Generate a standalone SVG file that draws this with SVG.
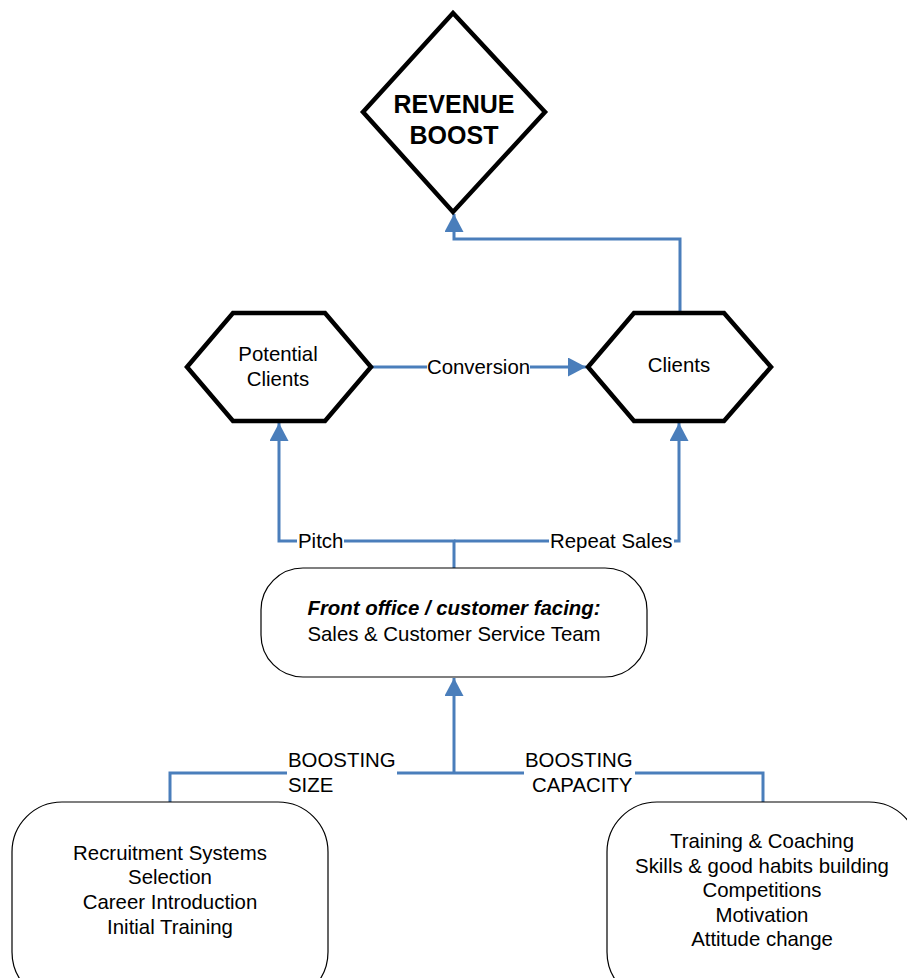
<svg xmlns="http://www.w3.org/2000/svg" width="907" height="978" viewBox="0 0 907 978">
  <style>
    text { font-family: "Liberation Sans", Arial, sans-serif; font-size: 20.4px; fill: #000; }
    .c { text-anchor: middle; }
    .thick { fill: #fff; stroke: #000; stroke-width: 4.5; stroke-linejoin: miter; }
    .box { fill: #fff; stroke: #000; stroke-width: 1.2; }
    .conn { fill: none; stroke: #4a7ebb; stroke-width: 3; }
    .lblbg { fill: #fff; }
  </style>
  <defs>
    <marker id="arr" viewBox="0 0 18 19" refX="18" refY="9.5" markerWidth="18" markerHeight="19" markerUnits="userSpaceOnUse" orient="auto">
      <path d="M0,0 L18,9.5 L0,19 z" fill="#4a7ebb"/>
    </marker>
  </defs>
  <rect width="907" height="978" fill="#fff"/>

  <g id="connectors">
    <path class="conn" d="M680,313 V239 H454 V214" marker-end="url(#arr)"/>
    <path class="conn" d="M371,367 H586" marker-end="url(#arr)"/>
    <path class="conn" d="M454,568 V541 H279 V423" marker-end="url(#arr)"/>
    <path class="conn" d="M454,541 H679 V423" marker-end="url(#arr)"/>
    <path class="conn" d="M454,773 V678" marker-end="url(#arr)"/>
    <path class="conn" d="M454,773 H170 V802"/>
    <path class="conn" d="M454,773 H763 V802"/>
    <rect class="lblbg" x="427" y="355" width="103" height="24"/>
    <text class="c" x="478.5" y="374">Conversion</text>
    <rect class="lblbg" x="297" y="530" width="47" height="22"/>
    <text x="298" y="548">Pitch</text>
    <rect class="lblbg" x="549" y="530" width="125" height="22"/>
    <text x="550" y="548">Repeat Sales</text>
    <rect class="lblbg" x="287" y="750" width="110" height="47"/>
    <text x="288" y="767">BOOSTING</text>
    <text x="288" y="792">SIZE</text>
    <rect class="lblbg" x="524" y="750" width="111" height="47"/>
    <text x="525" y="767">BOOSTING</text>
    <text x="532" y="792">CAPACITY</text>
  </g>

  <g id="revenue-boost">
    <polygon class="thick" points="453,13 545,112 453,212 363,112"/>
    <text class="c" x="454" y="113" style="font-weight:bold;font-size:25px">REVENUE</text>
    <text class="c" x="454" y="144" style="font-weight:bold;font-size:25px">BOOST</text>
  </g>

  <g id="potential-clients">
    <polygon class="thick" points="187,367 233,313 325,313 371,367 325,421 233,421"/>
    <text class="c" x="278" y="361">Potential</text>
    <text class="c" x="278" y="386">Clients</text>
  </g>

  <g id="clients">
    <polygon class="thick" points="588,367 634,313 724,313 771,367 724,421 634,421"/>
    <text class="c" x="679" y="372">Clients</text>
  </g>

  <g id="front-office">
    <rect class="box" x="261" y="568" width="386" height="109" rx="42" ry="42"/>
    <text class="c" x="454" y="615" style="font-weight:bold;font-style:italic">Front office / customer facing:</text>
    <text class="c" x="454" y="641">Sales &amp; Customer Service Team</text>
  </g>

  <g id="boosting-size-box">
    <rect class="box" x="12" y="802" width="316" height="200" rx="50" ry="50"/>
    <text class="c" x="170" y="860">Recruitment Systems</text>
    <text class="c" x="170" y="884">Selection</text>
    <text class="c" x="170" y="909">Career Introduction</text>
    <text class="c" x="170" y="934">Initial Training</text>
  </g>

  <g id="boosting-capacity-box">
    <rect class="box" x="607" y="802" width="312" height="200" rx="50" ry="50"/>
    <text class="c" x="762" y="848">Training &amp; Coaching</text>
    <text class="c" x="762" y="873">Skills &amp; good habits building</text>
    <text class="c" x="762" y="897">Competitions</text>
    <text class="c" x="762" y="922">Motivation</text>
    <text class="c" x="762" y="946">Attitude change</text>
  </g>
</svg>
